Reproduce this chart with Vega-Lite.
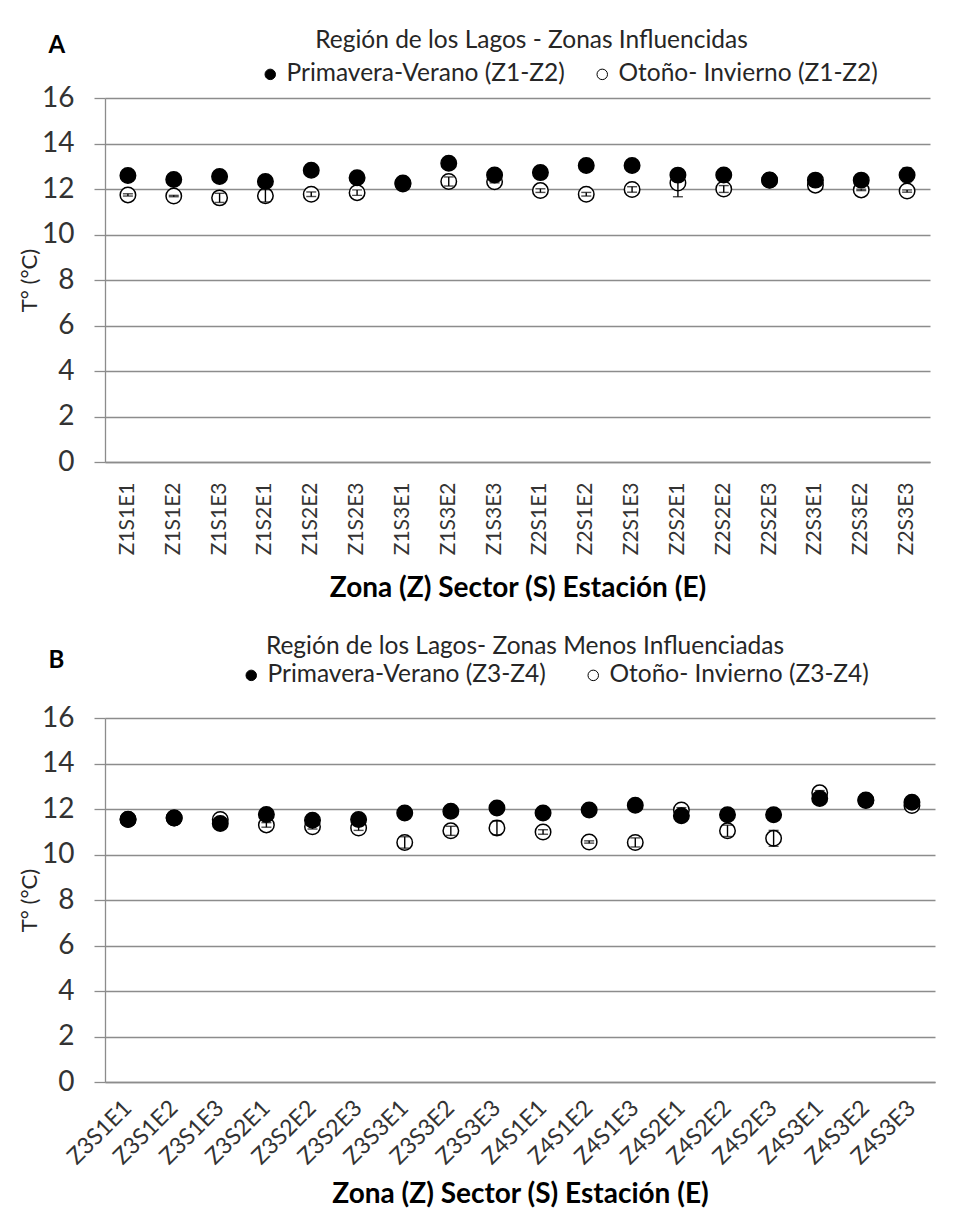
{
  "$schema": "https://vega.github.io/schema/vega-lite/v6.json",
  "background": "white",
  "padding": {"left": 18, "top": 27, "right": 10, "bottom": 0},
  "config": {
    "font": "Lato",
    "view": {"stroke": null},
    "axis": {
      "labelFont": "Lato",
      "titleFont": "Lato",
      "labelColor": "#333333",
      "titleColor": "#262626",
      "domainColor": "#8c8c8c",
      "domainWidth": 1.3,
      "gridColor": "#8c8c8c",
      "gridWidth": 1.3,
      "tickColor": "#8c8c8c",
      "tickWidth": 1.3
    },
    "legend": {
      "labelFont": "Lato",
      "labelColor": "#262626",
      "labelFontSize": 24.5,
      "labelLimit": 0
    }
  },
  "datasets": {
    "a": [
      {"punto": "Z1S1E1", "serie": "Otoño- Invierno (Z1-Z2)", "temp": 11.74, "err": 0.05},
      {"punto": "Z1S1E2", "serie": "Otoño- Invierno (Z1-Z2)", "temp": 11.69, "err": 0.03},
      {"punto": "Z1S1E3", "serie": "Otoño- Invierno (Z1-Z2)", "temp": 11.61, "err": 0.2},
      {"punto": "Z1S2E1", "serie": "Otoño- Invierno (Z1-Z2)", "temp": 11.70, "err": 0.27},
      {"punto": "Z1S2E2", "serie": "Otoño- Invierno (Z1-Z2)", "temp": 11.77, "err": 0.1},
      {"punto": "Z1S2E3", "serie": "Otoño- Invierno (Z1-Z2)", "temp": 11.84, "err": 0.12},
      {"punto": "Z1S3E1", "serie": "Otoño- Invierno (Z1-Z2)", "temp": 12.22, "err": 0.05},
      {"punto": "Z1S3E2", "serie": "Otoño- Invierno (Z1-Z2)", "temp": 12.33, "err": 0.2},
      {"punto": "Z1S3E3", "serie": "Otoño- Invierno (Z1-Z2)", "temp": 12.32, "err": 0.05},
      {"punto": "Z2S1E1", "serie": "Otoño- Invierno (Z1-Z2)", "temp": 11.93, "err": 0.08},
      {"punto": "Z2S1E2", "serie": "Otoño- Invierno (Z1-Z2)", "temp": 11.77, "err": 0.08},
      {"punto": "Z2S1E3", "serie": "Otoño- Invierno (Z1-Z2)", "temp": 11.98, "err": 0.12},
      {"punto": "Z2S2E1", "serie": "Otoño- Invierno (Z1-Z2)", "temp": 12.26, "err": 0.6},
      {"punto": "Z2S2E2", "serie": "Otoño- Invierno (Z1-Z2)", "temp": 12.00, "err": 0.15},
      {"punto": "Z2S2E3", "serie": "Otoño- Invierno (Z1-Z2)", "temp": 12.38, "err": 0.05},
      {"punto": "Z2S3E1", "serie": "Otoño- Invierno (Z1-Z2)", "temp": 12.17, "err": 0.05},
      {"punto": "Z2S3E2", "serie": "Otoño- Invierno (Z1-Z2)", "temp": 11.96, "err": 0.03},
      {"punto": "Z2S3E3", "serie": "Otoño- Invierno (Z1-Z2)", "temp": 11.91, "err": 0.05},
      {"punto": "Z1S1E1", "serie": "Primavera-Verano (Z1-Z2)", "temp": 12.59, "err": 0.05},
      {"punto": "Z1S1E2", "serie": "Primavera-Verano (Z1-Z2)", "temp": 12.42, "err": 0.05},
      {"punto": "Z1S1E3", "serie": "Primavera-Verano (Z1-Z2)", "temp": 12.55, "err": 0.05},
      {"punto": "Z1S2E1", "serie": "Primavera-Verano (Z1-Z2)", "temp": 12.33, "err": 0.05},
      {"punto": "Z1S2E2", "serie": "Primavera-Verano (Z1-Z2)", "temp": 12.82, "err": 0.05},
      {"punto": "Z1S2E3", "serie": "Primavera-Verano (Z1-Z2)", "temp": 12.49, "err": 0.05},
      {"punto": "Z1S3E1", "serie": "Primavera-Verano (Z1-Z2)", "temp": 12.26, "err": 0.05},
      {"punto": "Z1S3E2", "serie": "Primavera-Verano (Z1-Z2)", "temp": 13.13, "err": 0.05},
      {"punto": "Z1S3E3", "serie": "Primavera-Verano (Z1-Z2)", "temp": 12.62, "err": 0.05},
      {"punto": "Z2S1E1", "serie": "Primavera-Verano (Z1-Z2)", "temp": 12.72, "err": 0.05},
      {"punto": "Z2S1E2", "serie": "Primavera-Verano (Z1-Z2)", "temp": 13.03, "err": 0.05},
      {"punto": "Z2S1E3", "serie": "Primavera-Verano (Z1-Z2)", "temp": 13.03, "err": 0.05},
      {"punto": "Z2S2E1", "serie": "Primavera-Verano (Z1-Z2)", "temp": 12.61, "err": 0.05},
      {"punto": "Z2S2E2", "serie": "Primavera-Verano (Z1-Z2)", "temp": 12.62, "err": 0.05},
      {"punto": "Z2S2E3", "serie": "Primavera-Verano (Z1-Z2)", "temp": 12.40, "err": 0.05},
      {"punto": "Z2S3E1", "serie": "Primavera-Verano (Z1-Z2)", "temp": 12.39, "err": 0.05},
      {"punto": "Z2S3E2", "serie": "Primavera-Verano (Z1-Z2)", "temp": 12.39, "err": 0.05},
      {"punto": "Z2S3E3", "serie": "Primavera-Verano (Z1-Z2)", "temp": 12.62, "err": 0.3}
    ],
    "b": [
      {"punto": "Z3S1E1", "serie": "Otoño- Invierno (Z3-Z4)", "temp": 11.55, "err": 0.05},
      {"punto": "Z3S1E2", "serie": "Otoño- Invierno (Z3-Z4)", "temp": 11.60, "err": 0.05},
      {"punto": "Z3S1E3", "serie": "Otoño- Invierno (Z3-Z4)", "temp": 11.54, "err": 0.05},
      {"punto": "Z3S2E1", "serie": "Otoño- Invierno (Z3-Z4)", "temp": 11.30, "err": 0.1},
      {"punto": "Z3S2E2", "serie": "Otoño- Invierno (Z3-Z4)", "temp": 11.22, "err": 0.1},
      {"punto": "Z3S2E3", "serie": "Otoño- Invierno (Z3-Z4)", "temp": 11.16, "err": 0.1},
      {"punto": "Z3S3E1", "serie": "Otoño- Invierno (Z3-Z4)", "temp": 10.53, "err": 0.25},
      {"punto": "Z3S3E2", "serie": "Otoño- Invierno (Z3-Z4)", "temp": 11.04, "err": 0.2},
      {"punto": "Z3S3E3", "serie": "Otoño- Invierno (Z3-Z4)", "temp": 11.17, "err": 0.3},
      {"punto": "Z4S1E1", "serie": "Otoño- Invierno (Z3-Z4)", "temp": 10.99, "err": 0.1},
      {"punto": "Z4S1E2", "serie": "Otoño- Invierno (Z3-Z4)", "temp": 10.55, "err": 0.05},
      {"punto": "Z4S1E3", "serie": "Otoño- Invierno (Z3-Z4)", "temp": 10.53, "err": 0.2},
      {"punto": "Z4S2E1", "serie": "Otoño- Invierno (Z3-Z4)", "temp": 11.96, "err": 0.1},
      {"punto": "Z4S2E2", "serie": "Otoño- Invierno (Z3-Z4)", "temp": 11.04, "err": 0.25},
      {"punto": "Z4S2E3", "serie": "Otoño- Invierno (Z3-Z4)", "temp": 10.71, "err": 0.35},
      {"punto": "Z4S3E1", "serie": "Otoño- Invierno (Z3-Z4)", "temp": 12.71, "err": 0.1},
      {"punto": "Z4S3E2", "serie": "Otoño- Invierno (Z3-Z4)", "temp": 12.40, "err": 0.1},
      {"punto": "Z4S3E3", "serie": "Otoño- Invierno (Z3-Z4)", "temp": 12.15, "err": 0.05},
      {"punto": "Z3S1E1", "serie": "Primavera-Verano (Z3-Z4)", "temp": 11.54, "err": 0.05},
      {"punto": "Z3S1E2", "serie": "Primavera-Verano (Z3-Z4)", "temp": 11.60, "err": 0.05},
      {"punto": "Z3S1E3", "serie": "Primavera-Verano (Z3-Z4)", "temp": 11.36, "err": 0.05},
      {"punto": "Z3S2E1", "serie": "Primavera-Verano (Z3-Z4)", "temp": 11.76, "err": 0.05},
      {"punto": "Z3S2E2", "serie": "Primavera-Verano (Z3-Z4)", "temp": 11.51, "err": 0.05},
      {"punto": "Z3S2E3", "serie": "Primavera-Verano (Z3-Z4)", "temp": 11.54, "err": 0.05},
      {"punto": "Z3S3E1", "serie": "Primavera-Verano (Z3-Z4)", "temp": 11.82, "err": 0.05},
      {"punto": "Z3S3E2", "serie": "Primavera-Verano (Z3-Z4)", "temp": 11.90, "err": 0.05},
      {"punto": "Z3S3E3", "serie": "Primavera-Verano (Z3-Z4)", "temp": 12.04, "err": 0.05},
      {"punto": "Z4S1E1", "serie": "Primavera-Verano (Z3-Z4)", "temp": 11.82, "err": 0.05},
      {"punto": "Z4S1E2", "serie": "Primavera-Verano (Z3-Z4)", "temp": 11.96, "err": 0.05},
      {"punto": "Z4S1E3", "serie": "Primavera-Verano (Z3-Z4)", "temp": 12.16, "err": 0.05},
      {"punto": "Z4S2E1", "serie": "Primavera-Verano (Z3-Z4)", "temp": 11.70, "err": 0.15},
      {"punto": "Z4S2E2", "serie": "Primavera-Verano (Z3-Z4)", "temp": 11.75, "err": 0.05},
      {"punto": "Z4S2E3", "serie": "Primavera-Verano (Z3-Z4)", "temp": 11.75, "err": 0.05},
      {"punto": "Z4S3E1", "serie": "Primavera-Verano (Z3-Z4)", "temp": 12.46, "err": 0.1},
      {"punto": "Z4S3E2", "serie": "Primavera-Verano (Z3-Z4)", "temp": 12.37, "err": 0.25},
      {"punto": "Z4S3E3", "serie": "Primavera-Verano (Z3-Z4)", "temp": 12.30, "err": 0.05}
    ]
  },
  "spacing": 30,
  "vconcat": [
    {
      "title": {"text": "A", "anchor": "start", "fontSize": 24, "fontWeight": "bold", "color": "black", "dx": 30, "dy": 30, "offset": 0},
      "vconcat": [
        {
          "data": {"name": "a"},
          "width": 825,
          "height": 364,
          "title": {"text": "Región de los Lagos - Zonas Influencidas", "fontSize": 24.5, "fontWeight": "normal", "color": "#262626", "frame": "group", "anchor": "middle", "offset": 31, "dx": 14},
          "encoding": {
            "x": {
              "field": "punto", "type": "nominal", "sort": null,
              "title": "Zona (Z) Sector (S) Estación (E)",
              "axis": {"labelAngle": -90, "labelAlign": "right", "labelBaseline": "middle", "labelFontSize": 21, "labelPadding": 20, "ticks": false, "titleFontSize": 28, "titleFontWeight": "bold", "titleColor": "black", "titlePadding": 20}
            },
            "y": {
              "field": "temp", "type": "quantitative",
              "scale": {"domain": [0, 16]},
              "title": "T° (°C)",
              "axis": {"values": [0, 2, 4, 6, 8, 10, 12, 14, 16], "grid": true, "tickSize": 11, "labelFontSize": 28, "labelPadding": 20, "titleFontSize": 22, "titleFontWeight": "normal", "titlePadding": 0}
            }
          },
          "layer": [
            {
              "transform": [{"filter": "test(/^Oto/, datum.serie)"}],
              "mark": {"type": "point", "shape": "circle", "filled": true, "size": 240, "stroke": "black", "strokeWidth": 1.5, "opacity": 1},
              "encoding": {
                "fill": {
                  "field": "serie", "type": "nominal",
                  "scale": {"domain": ["Primavera-Verano (Z1-Z2)", "Otoño- Invierno (Z1-Z2)"], "range": ["black", "white"]},
                  "legend": {"orient": "none", "legendX": 153, "legendY": -36, "direction": "horizontal", "title": null, "symbolType": "circle", "symbolSize": 110, "symbolStrokeColor": "black", "symbolStrokeWidth": 1, "columnPadding": 25, "labelOffset": 4}
                }
              }
            },
            {
              "transform": [{"filter": "test(/^Oto/, datum.serie)"}],
              "mark": {"type": "errorbar", "color": "black", "ticks": {"size": 10, "thickness": 1.4}, "rule": {"strokeWidth": 1.4}},
              "encoding": {"yError": {"field": "err"}}
            },
            {
              "transform": [{"filter": "test(/^Prim/, datum.serie)"}],
              "mark": {"type": "point", "shape": "circle", "filled": true, "size": 240, "stroke": "black", "strokeWidth": 1.5, "opacity": 1},
              "encoding": {"fill": {"field": "serie", "type": "nominal"}}
            },
            {
              "transform": [{"filter": "test(/^Prim/, datum.serie)"}],
              "mark": {"type": "errorbar", "color": "black", "ticks": {"size": 10, "thickness": 1.4}, "rule": {"strokeWidth": 1.4}},
              "encoding": {"yError": {"field": "err"}}
            }
          ]
        }
      ]
    },
    {
      "title": {"text": "B", "anchor": "start", "fontSize": 24, "fontWeight": "bold", "color": "black", "dx": 30, "dy": 39, "offset": 0},
      "vconcat": [
        {
          "data": {"name": "b"},
          "width": 830,
          "height": 364,
          "title": {"text": "Región de los Lagos- Zonas Menos Influenciadas", "fontSize": 24.5, "fontWeight": "normal", "color": "#262626", "frame": "group", "anchor": "middle", "offset": 45, "dx": 5},
          "encoding": {
            "x": {
              "field": "punto", "type": "nominal", "sort": null,
              "title": "Zona (Z) Sector (S) Estación (E)",
              "axis": {"labelAngle": -45, "labelAlign": "right", "labelBaseline": "middle", "labelFontSize": 23, "labelPadding": 22, "ticks": false, "titleFontSize": 28, "titleFontWeight": "bold", "titleColor": "black", "titlePadding": 12}
            },
            "y": {
              "field": "temp", "type": "quantitative",
              "scale": {"domain": [0, 16]},
              "title": "T° (°C)",
              "axis": {"values": [0, 2, 4, 6, 8, 10, 12, 14, 16], "grid": true, "tickSize": 11, "labelFontSize": 28, "labelPadding": 20, "titleFontSize": 22, "titleFontWeight": "normal", "titlePadding": 0}
            }
          },
          "layer": [
            {
              "transform": [{"filter": "test(/^Oto/, datum.serie)"}],
              "mark": {"type": "point", "shape": "circle", "filled": true, "size": 240, "stroke": "black", "strokeWidth": 1.5, "opacity": 1},
              "encoding": {
                "fill": {
                  "field": "serie", "type": "nominal",
                  "scale": {"domain": ["Primavera-Verano (Z3-Z4)", "Otoño- Invierno (Z3-Z4)"], "range": ["black", "white"]},
                  "legend": {"orient": "none", "legendX": 134, "legendY": -55, "direction": "horizontal", "title": null, "symbolType": "circle", "symbolSize": 110, "symbolStrokeColor": "black", "symbolStrokeWidth": 1, "columnPadding": 35, "labelOffset": 4}
                }
              }
            },
            {
              "transform": [{"filter": "test(/^Oto/, datum.serie)"}],
              "mark": {"type": "errorbar", "color": "black", "ticks": {"size": 10, "thickness": 1.4}, "rule": {"strokeWidth": 1.4}},
              "encoding": {"yError": {"field": "err"}}
            },
            {
              "transform": [{"filter": "test(/^Prim/, datum.serie)"}],
              "mark": {"type": "point", "shape": "circle", "filled": true, "size": 240, "stroke": "black", "strokeWidth": 1.5, "opacity": 1},
              "encoding": {"fill": {"field": "serie", "type": "nominal"}}
            },
            {
              "transform": [{"filter": "test(/^Prim/, datum.serie)"}],
              "mark": {"type": "errorbar", "color": "black", "ticks": {"size": 10, "thickness": 1.4}, "rule": {"strokeWidth": 1.4}},
              "encoding": {"yError": {"field": "err"}}
            }
          ]
        }
      ]
    }
  ],
  "resolve": {"scale": {"fill": "independent", "x": "independent", "y": "independent"}, "legend": {"fill": "independent"}}
}
